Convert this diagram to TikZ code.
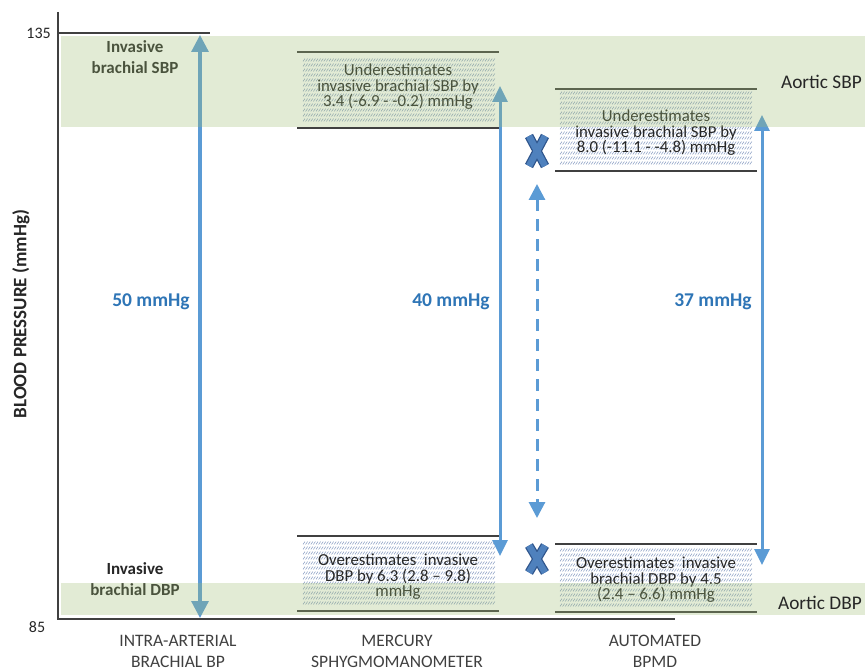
\documentclass[tikz,border=0pt]{standalone}
\usepackage{fontspec}
\setmainfont{Carlito}
\usetikzlibrary{arrows.meta}
\definecolor{bandgreen}{RGB}{158,188,115}
\definecolor{arrowblue}{RGB}{91,155,213}
\definecolor{valblue}{RGB}{46,117,182}
\definecolor{xblue}{RGB}{79,129,189}
\definecolor{xdark}{RGB}{47,85,140}
\definecolor{hatchc}{RGB}{140,160,196}
\definecolor{txt}{RGB}{38,38,38}
\definecolor{lbl}{RGB}{64,64,64}
\definecolor{boxline}{RGB}{64,64,64}
\newcommand{\hatchbox}[5]{%
  \foreach \i in {0,...,#4}{%
    \draw[hatchline] \foreach \j in {0,...,#5}{ ({#1+2.6*\j},{#2+5*\i+1.4}) -- ++(2,-2.8) };
  }}
\begin{document}
\begin{tikzpicture}[x=1pt,y=-1pt,
  axisline/.style={draw=boxline,line width=1.1pt},
  boxl/.style={draw=boxline,line width=1.1pt},
  hatchline/.style={draw=hatchc,line width=0.55pt},
  boxtxt/.style={text=txt,align=center,font=\fontsize{16.8}{15.5}\selectfont,inner sep=0pt},
  cattxt/.style={text=lbl,align=center,font=\fontsize{17.5}{21}\selectfont,inner sep=0pt},
  valtxt/.style={text=valblue,font=\bfseries\fontsize{19.5}{22}\selectfont,inner sep=0pt},
  invtxt/.style={text=txt,align=center,font=\bfseries\fontsize{17}{21}\selectfont,inner sep=0pt},
  aortxt/.style={text=txt,font=\fontsize{19.3}{22}\selectfont,inner sep=0pt},
  ticklbl/.style={text=txt,font=\fontsize{16}{18}\selectfont,inner sep=0pt},
  bparrow/.style={draw=arrowblue,line width=3.2pt,
     {Triangle[width=17pt,length=17pt]}-{Triangle[width=17pt,length=17pt]}},
  sarrow/.style={draw=arrowblue,line width=3pt,
     {Triangle[width=15pt,length=16pt]}-{Triangle[width=15pt,length=16pt]}},
  band/.style={fill=bandgreen,fill opacity=0.3},
  xout/.style={draw=xdark,line width=9pt},
  xin/.style={draw=xblue,line width=6.5pt}
]
\useasboundingbox (0,0) rectangle (865,671);
% axes
\coordinate (axtop) at (58,12);
\coordinate (axorig) at (58,619);
\coordinate (axend) at (675,619);
\draw[axisline] (axtop) -- (axorig) -- (axend);
\coordinate (t135a) at (58,33);
\coordinate (t135b) at (210,33);
\draw[axisline] (t135a) -- (t135b);
\node[ticklbl,anchor=east] (l135) at (51,33) {135};
\node[ticklbl] (l85) at (37,627) {85};
\node[text=txt,font=\bfseries\fontsize{19}{20}\selectfont,rotate=90,inner sep=0pt] (ylab) at (21,314) {BLOOD PRESSURE (mmHg)};

% hatching
\hatchbox{303}{60}{495}{12}{73}
\hatchbox{303}{543}{495}{12}{73}
\hatchbox{560}{93}{752}{14}{73}
\hatchbox{560}{550}{752}{11}{73}

% box lines
\coordinate (mta) at (297,52);  \coordinate (mtb) at (499,52);
\coordinate (mtc) at (297,128); \coordinate (mtd) at (499,128);
\coordinate (mba) at (297,536); \coordinate (mbb) at (499,536);
\coordinate (mbc) at (297,611); \coordinate (mbd) at (499,611);
\coordinate (ata) at (555,89);  \coordinate (atb) at (757,89);
\coordinate (atc) at (555,171); \coordinate (atd) at (757,171);
\coordinate (aba) at (555,544); \coordinate (abb) at (757,544);
\coordinate (abc) at (555,612); \coordinate (abd) at (757,612);
\draw[boxl] (mta) -- (mtb);
\draw[boxl] (mtc) -- (mtd);
\draw[boxl] (mba) -- (mbb);
\draw[boxl] (mbc) -- (mbd);
\draw[boxl] (ata) -- (atb);
\draw[boxl] (atc) -- (atd);
\draw[boxl] (aba) -- (abb);
\draw[boxl] (abc) -- (abd);

% box texts
\node[boxtxt] (mtt) at (398,87) {Underestimates\\invasive brachial SBP by\\3.4 (-6.9 - -0.2) mmHg};
\node[boxtxt] (mbt) at (398,577) {Overestimates\ \ invasive\\DBP by 6.3 (2.8 -- 9.8)\\mmHg};
\node[boxtxt] (att) at (656,133) {Underestimates\\invasive brachial SBP by\\8.0 (-11.1 - -4.8) mmHg};
\node[boxtxt] (abt) at (656,580) {Overestimates\ \ invasive\\brachial DBP by 4.5\\(2.4 -- 6.6) mmHg};

% invasive labels
\node[invtxt] (isbp) at (135,57.5) {Invasive\\brachial SBP};
\node[invtxt] (idbp) at (135,579) {Invasive\\brachial DBP};

% arrows
\coordinate (a1t) at (200,35);  \coordinate (a1b) at (200,618);
\coordinate (a2t) at (500,86);  \coordinate (a2b) at (500,556);
\coordinate (a3t) at (762,115); \coordinate (a3b) at (762,565);
\coordinate (a4t) at (537,184); \coordinate (a4b) at (537,518);
\draw[bparrow] (a1t) -- (a1b);
\draw[sarrow] (a2t) -- (a2b);
\draw[sarrow] (a3t) -- (a3b);
\draw[draw=arrowblue,line width=3pt,dash pattern=on 12pt off 8pt,{Triangle[width=16pt,length=16pt]}-{Triangle[width=16pt,length=16pt]}] (a4t) -- (a4b);

% value labels
\node[valtxt] (v50) at (151,302) {50 mmHg};
\node[valtxt] (v40) at (451,302) {40 mmHg};
\node[valtxt] (v37) at (713,302) {37 mmHg};

% X marks
\coordinate (x1) at (537,151);
\coordinate (x2) at (537,559);
\draw[xout] ([shift={(-8,-15)}]x1) -- ([shift={(8,15)}]x1) ([shift={(8,-15)}]x1) -- ([shift={(-8,15)}]x1);
\draw[xout] ([shift={(-8,-13.5)}]x2) -- ([shift={(8,13.5)}]x2) ([shift={(8,-13.5)}]x2) -- ([shift={(-8,13.5)}]x2);
\draw[xin] ([shift={(-8,-15)}]x1) -- ([shift={(8,15)}]x1) ([shift={(8,-15)}]x1) -- ([shift={(-8,15)}]x1);
\draw[xin] ([shift={(-8,-13.5)}]x2) -- ([shift={(8,13.5)}]x2) ([shift={(8,-13.5)}]x2) -- ([shift={(-8,13.5)}]x2);

% category labels
\node[cattxt] (c1) at (178,651) {INTRA-ARTERIAL\\BRACHIAL BP};
\node[cattxt] (c2) at (397,651) {MERCURY\\SPHYGMOMANOMETER};
\node[cattxt] (c3) at (655,651) {AUTOMATED\\BPMD};

% green bands (overlay)
\fill[band] (61,36) rectangle (865,127);
\fill[band] (61,583) rectangle (865,615);

\node[aortxt,anchor=east] (asbp) at (862,82) {Aortic SBP};
\node[aortxt,anchor=east] (adbp) at (862,603) {Aortic DBP};
\end{tikzpicture}
\end{document}
